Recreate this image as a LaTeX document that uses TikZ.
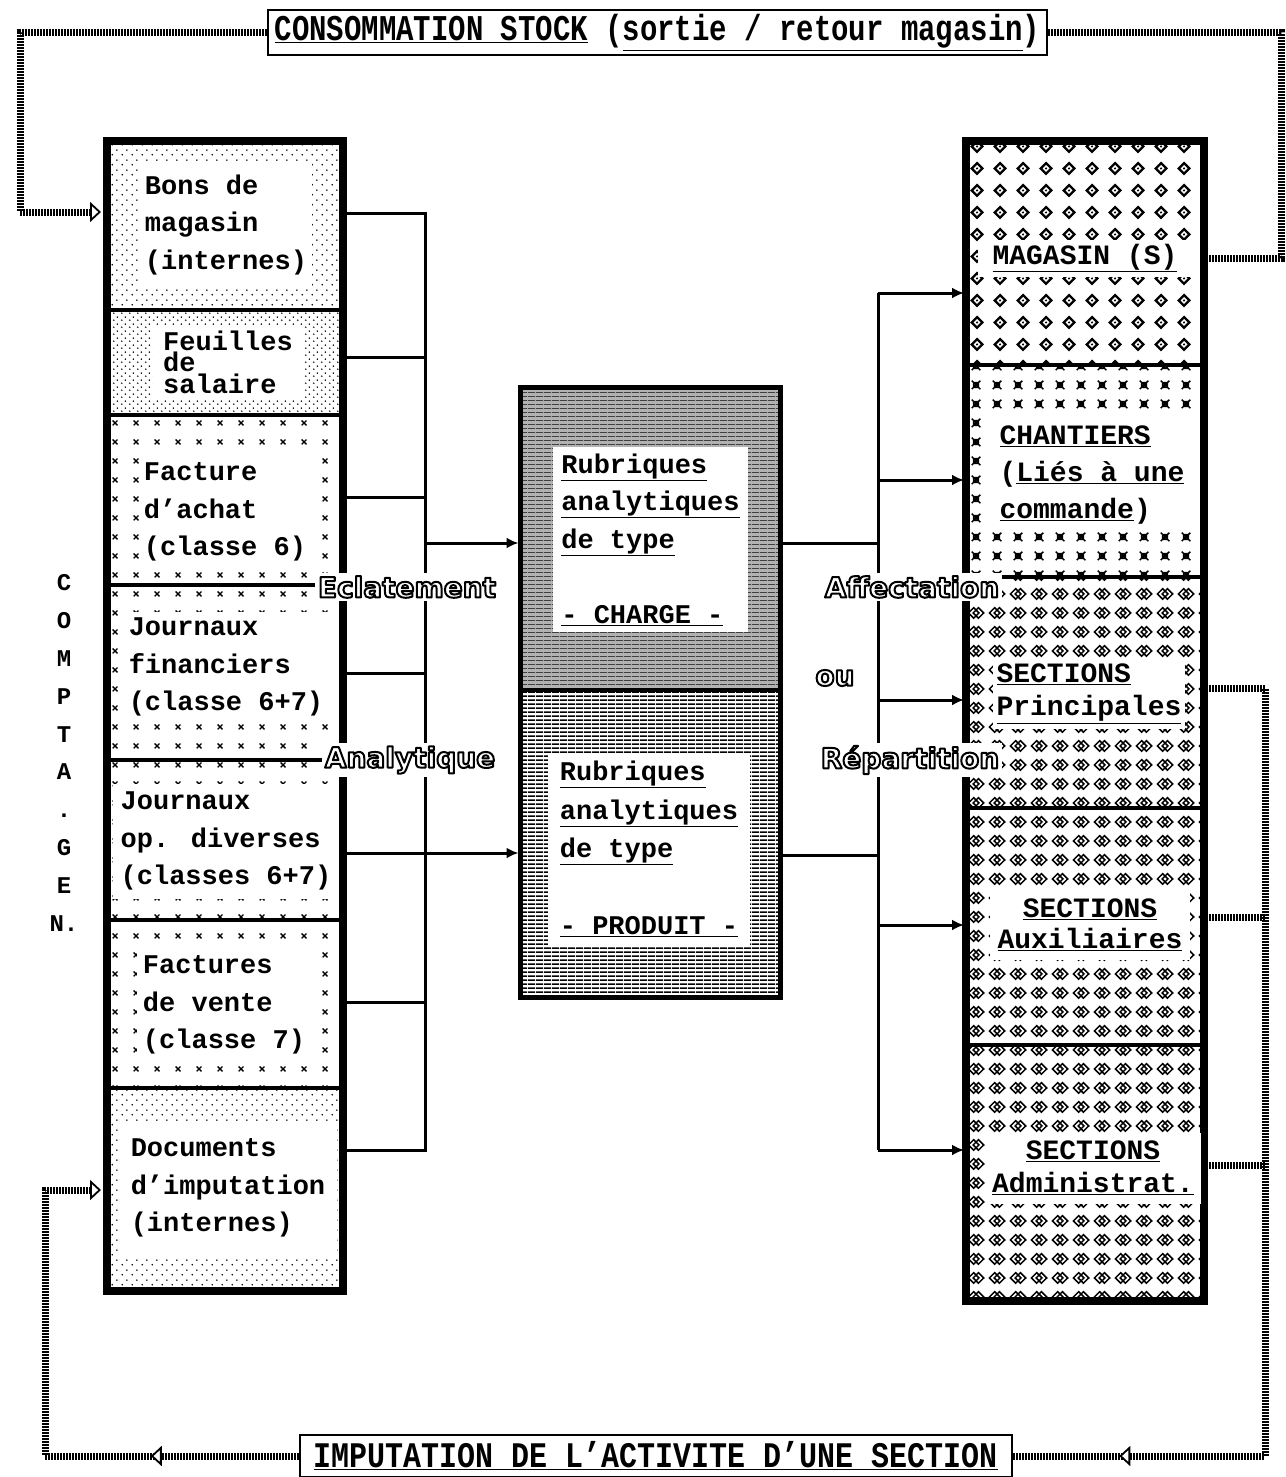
\documentclass[tikz,border=0pt]{standalone}
\usepackage{fontspec}
\setmainfont{Liberation Mono}
\newfontfamily\lblfont{DejaVu Sans}
\usepackage{graphicx}
\usetikzlibrary{patterns,arrows.meta,decorations.markings}

% outlined text: white fill, black stroke (PDF text render mode 2)
\newcommand\outlined[1]{\special{pdf:literal direct 2 Tr 2 w 1 j 0 G}#1\special{pdf:literal direct 0 Tr}}

\pgfdeclarepatternformonly{pdots}{\pgfqpoint{0pt}{0pt}}{\pgfqpoint{10pt}{10pt}}{\pgfqpoint{10pt}{10pt}}{%
  \pgfpathcircle{\pgfqpoint{2.5pt}{2.5pt}}{0.9pt}%
  \pgfpathcircle{\pgfqpoint{7.5pt}{7.5pt}}{0.9pt}%
  \pgfusepath{fill}}
\pgfdeclarepatternformonly{pdots2}{\pgfqpoint{0pt}{0pt}}{\pgfqpoint{8pt}{7pt}}{\pgfqpoint{8pt}{7pt}}{%
  \pgfpathcircle{\pgfqpoint{2pt}{2pt}}{0.9pt}%
  \pgfpathcircle{\pgfqpoint{6pt}{5.5pt}}{0.9pt}%
  \pgfusepath{fill}}
\pgfdeclarepatternformonly{xmarks}{\pgfqpoint{0pt}{0pt}}{\pgfqpoint{21pt}{19pt}}{\pgfqpoint{21pt}{19pt}}{%
  \pgfsetlinewidth{1.4pt}%
  \pgfpathmoveto{\pgfqpoint{8pt}{7pt}}\pgfpathlineto{\pgfqpoint{13pt}{12pt}}%
  \pgfpathmoveto{\pgfqpoint{8pt}{12pt}}\pgfpathlineto{\pgfqpoint{13pt}{7pt}}%
  \pgfusepath{stroke}}
\pgfdeclarepatternformonly{pdiam}{\pgfqpoint{0pt}{0pt}}{\pgfqpoint{23pt}{22pt}}{\pgfqpoint{23pt}{22pt}}{%
  \pgfsetlinewidth{2.4pt}%
  \pgfpathmoveto{\pgfqpoint{11.5pt}{5.5pt}}\pgfpathlineto{\pgfqpoint{17pt}{11pt}}%
  \pgfpathlineto{\pgfqpoint{11.5pt}{16.5pt}}\pgfpathlineto{\pgfqpoint{6pt}{11pt}}\pgfpathclose
  \pgfusepath{stroke}%
  \pgfpathcircle{\pgfqpoint{11.5pt}{11pt}}{1.2pt}\pgfusepath{fill}}
\pgfdeclarepatternformonly{pstar}{\pgfqpoint{0pt}{0pt}}{\pgfqpoint{21pt}{19pt}}{\pgfqpoint{21pt}{19pt}}{%
  \pgfsetlinewidth{1.5pt}%
  \pgfpathrectangle{\pgfqpoint{8pt}{7pt}}{\pgfqpoint{5pt}{5pt}}%
  \pgfpathmoveto{\pgfqpoint{6pt}{5pt}}\pgfpathlineto{\pgfqpoint{15pt}{14pt}}%
  \pgfpathmoveto{\pgfqpoint{6pt}{14pt}}\pgfpathlineto{\pgfqpoint{15pt}{5pt}}%
  \pgfusepath{stroke}}
\pgfdeclarepatternformonly{pknot}{\pgfqpoint{0pt}{0pt}}{\pgfqpoint{21pt}{19pt}}{\pgfqpoint{21pt}{19pt}}{%
  \pgfsetlinewidth{1.6pt}%
  \pgfpathmoveto{\pgfqpoint{8pt}{4pt}}\pgfpathlineto{\pgfqpoint{13.5pt}{9.5pt}}%
  \pgfpathlineto{\pgfqpoint{8pt}{15pt}}\pgfpathlineto{\pgfqpoint{2.5pt}{9.5pt}}\pgfpathclose
  \pgfpathmoveto{\pgfqpoint{13pt}{4pt}}\pgfpathlineto{\pgfqpoint{18.5pt}{9.5pt}}%
  \pgfpathlineto{\pgfqpoint{13pt}{15pt}}\pgfpathlineto{\pgfqpoint{7.5pt}{9.5pt}}\pgfpathclose
  \pgfusepath{stroke}}
\pgfdeclarepatternformonly{hstripes}{\pgfqpoint{0pt}{0pt}}{\pgfqpoint{8pt}{4pt}}{\pgfqpoint{8pt}{4pt}}{%
  \pgfpathrectangle{\pgfqpoint{0pt}{0pt}}{\pgfqpoint{8pt}{2pt}}\pgfusepath{fill}}
\pgfdeclarepatternformonly{hthin}{\pgfqpoint{0pt}{0pt}}{\pgfqpoint{8pt}{4pt}}{\pgfqpoint{8pt}{4pt}}{%
  \pgfpathrectangle{\pgfqpoint{0pt}{0pt}}{\pgfqpoint{8pt}{1.2pt}}\pgfusepath{fill}}

\tikzset{
  hatch/.style={line width=7pt, dash pattern=on 1.6pt off 1.4pt},
  openhead/.style={-{Triangle[open,length=11pt,width=20pt,line width=1.8pt]}},
  midhead/.style={postaction={decorate,decoration={markings,
      mark=at position #1 with {\arrow{Triangle[open,fill=white,length=11pt,width=20pt,line width=1.8pt]}}}}},
  wire/.style={line width=3pt},
  flowarr/.style={line width=3pt,-{Latex[length=12pt,width=11pt]}},
  lsec/.style={draw, line width=4pt, minimum width=236pt, inner sep=0pt},
  rsec/.style={draw, line width=4pt, minimum width=238pt, inner sep=0pt},
  ltext/.style={fill=white, align=left, inner sep=0pt, font=\bfseries\fontsize{27}{37.5}\selectfont},
  rtext/.style={fill=white, inner sep=0pt, font=\bfseries\fontsize{28}{37}\selectfont},
  olabel/.style={fill=white, inner sep=3pt, text=white, font=\lblfont\bfseries\fontsize{28}{28}\selectfont},
  lblbox/.style={draw, line width=2.5pt, inner sep=0pt, fill=white}
}

\begin{document}
\begin{tikzpicture}[x=1pt,y=-1pt]
\useasboundingbox[fill=white] (0,0) rectangle (1285,1477);

% ---- frame labels
\node[lblbox, minimum width=779pt, minimum height=45pt] (conso) at (657.5,32.5)
  {\scalebox{1}[1.25]{\bfseries\fontsize{29}{29}\selectfont\underline{CONSOMMATION STOCK} (\underline{sortie / retour magasin})}};
\node[lblbox, minimum width=712pt, minimum height=42pt] (imput) at (656,1456)
  {\scalebox{1}[1.2]{\bfseries\fontsize{30}{30}\selectfont\underline{IMPUTATION DE L'ACTIVITE D'UNE SECTION}}};

% ---- coordinates of the hatched loops
\coordinate (tl1) at (20,33);
\coordinate (tl2) at (20,212);
\coordinate (tr1) at (1281,258);
\coordinate (tr2) at (1281,33);
\coordinate (bl1) at (45,1456);
\coordinate (bl2) at (45,1190);
\coordinate (br0) at (1265,688);
\coordinate (br1) at (1265,1456);
\coordinate (br2) at (1265,917);
\coordinate (br3) at (1265,1165);

% ---- left column
\node[lsec, pattern=pdots,  minimum height=169pt] (bons)  at (225,225.5) {};
\node[lsec, pattern=pdots2, minimum height=105pt] (feuil) at (225,362.5) {};
\node[lsec, pattern=xmarks, minimum height=170pt] (fach)  at (225,500) {};
\node[lsec, pattern=xmarks, minimum height=175pt] (jfin)  at (225,672.5) {};
\node[lsec, pattern=xmarks, minimum height=160pt] (jop)   at (225,840) {};
\node[lsec, pattern=xmarks, minimum height=168pt] (fvte)  at (225,1004) {};
\node[lsec, pattern=pdots,  minimum height=203pt] (docs)  at (225,1189.5) {};
\node[draw, line width=8pt, minimum width=236pt, minimum height=1150pt, inner sep=0pt] (leftcol) at (225,716) {};

\node[ltext, minimum width=172pt, minimum height=124pt] (tbons) at (226,225) {Bons de\\magasin\\(internes)};
\node[ltext, minimum width=150pt, minimum height=75pt, font=\bfseries\fontsize{27}{21.5}\selectfont] (tfeuil) at (228,362) {Feuilles\\de\\salaire};
\node[ltext, minimum width=170pt, minimum height=110pt] (tfach) at (225,512) {Facture\\d'achat\\(classe 6)};
\node[ltext, minimum width=215pt, minimum height=110pt] (tjfin) at (226,667) {Journaux\\financiers\\(classe 6+7)};
\node[ltext, minimum width=226pt, minimum height=115pt] (tjop) at (226,841) {Journaux\\op. diverses\\(classes 6+7)};
\node[ltext, minimum width=175pt, minimum height=110pt] (tfvte) at (224,1005) {Factures\\de vente\\(classe 7)};
\node[ltext, minimum width=218pt, minimum height=135pt] (tdocs) at (228,1188) {Documents\\d'imputation\\(internes)};

\node[font=\bfseries\fontsize{24}{37.8}\selectfont, align=center, inner sep=0pt] (cg) at (64,753)
  {C\\O\\M\\P\\T\\A\\.\\G\\E\\N.};

% ---- central box
\node[draw, line width=4pt, minimum width=260pt, minimum height=302.5pt, inner sep=0pt,
      preaction={fill=gray!60}, pattern=hthin, pattern color=black!75] (charge) at (650.5,538.75) {};
\node[draw, line width=4pt, minimum width=260pt, minimum height=307.5pt, inner sep=0pt,
      pattern=hstripes] (produit) at (650.5,843.75) {};
\node[draw, line width=5pt, minimum width=260pt, minimum height=610pt, inner sep=0pt] (central) at (650.5,692.5) {};
\node[fill=white, minimum width=195pt, minimum height=185pt, inner sep=0pt, align=left,
      font=\bfseries\fontsize{27}{37.5}\selectfont] (chin) at (650.5,539.5)
  {\underline{Rubriques}\\\underline{analytiques}\\\underline{de type}\\\mbox{}\\\underline{- CHARGE -}};
\node[fill=white, minimum width=202pt, minimum height=193pt, inner sep=0pt, align=left,
      font=\bfseries\fontsize{27}{38.5}\selectfont] (prin) at (649,849)
  {\underline{Rubriques}\\\underline{analytiques}\\\underline{de type}\\\mbox{}\\\underline{- PRODUIT -}};

% ---- right column
\node[rsec, pattern=pdiam, minimum height=224pt] (mag)  at (1085,253) {};
\node[rsec, pattern=pstar, minimum height=212pt] (chan) at (1085,471) {};
\node[rsec, pattern=pknot, minimum height=231pt] (sp)   at (1085,692.5) {};
\node[rsec, pattern=pknot, minimum height=237pt] (saux) at (1085,926.5) {};
\node[rsec, pattern=pknot, minimum height=256pt] (sadm) at (1085,1173) {};
\node[draw, line width=8pt, minimum width=238pt, minimum height=1160pt, inner sep=0pt] (rightcol) at (1085,721) {};

\node[rtext, minimum width=214pt, minimum height=37pt] (tmag) at (1085,258) {\underline{MAGASIN (S)}};
\node[rtext, align=left, minimum width=200pt, minimum height=114pt] (tchan) at (1092,475)
  {\underline{CHANTIERS}\\(\underline{Liés à une}\\\underline{commande})};
\node[rtext, align=left, minimum width=192pt, minimum height=70pt, font=\bfseries\fontsize{28}{33}\selectfont] (tsp) at (1089,694)
  {\underline{SECTIONS}\\\underline{Principales}};
\node[rtext, align=center, minimum width=200pt, minimum height=70pt, font=\bfseries\fontsize{28}{31}\selectfont] (tsaux) at (1090,925)
  {\underline{SECTIONS}\\\underline{Auxiliaires}};
\node[rtext, align=center, minimum width=215pt, minimum height=71pt, font=\bfseries\fontsize{28}{33}\selectfont] (tsadm) at (1093,1168)
  {\underline{SECTIONS}\\\underline{Administrat.}};

% ---- hatched loops
\draw[hatch, openhead, shorten >=4pt] (conso.west |- tl1) -- (tl1) -- (tl2) -- (bons.west |- tl2);
\draw[hatch] (mag.east |- tr1) -- (tr1) -- (tr2) -- (conso.east |- tr2);
\draw[hatch, openhead, shorten >=4pt, midhead=148pt] (imput.west |- bl1) -- (bl1) -- (bl2) -- (docs.west |- bl2);
\draw[hatch, midhead=-106pt] (sp.east |- br0) -- (br0) -- (br1) -- (imput.east |- br1);
\draw[hatch] (saux.east |- br2) -- (br2);
\draw[hatch] (sadm.east |- br3) -- (br3);

% ---- left bus
\coordinate (L1) at (425,213);
\coordinate (L2) at (425,357);
\coordinate (L3) at (425,497);
\coordinate (L4) at (425,673);
\coordinate (L5) at (425,1002);
\coordinate (L6) at (425,1150);
\coordinate (LA) at (425,543);
\coordinate (LB) at (425,853);
\draw[wire] (bons.east |- L1) -- (L1) -- (L6) -- (docs.east |- L6);
\draw[wire] (feuil.east |- L2) -- (L2);
\draw[wire] (fach.east |- L3) -- (L3);
\draw[wire] (jfin.east |- L4) -- (L4);
\draw[wire] (fvte.east |- L5) -- (L5);
\draw[flowarr] (LA) -- (charge.west |- LA);
\draw[flowarr] (jop.east |- LB) -- (produit.west |- LB);

% ---- right bus
\coordinate (R1) at (878,293);
\coordinate (R2) at (878,480);
\coordinate (R3) at (878,700);
\coordinate (R4) at (878,925);
\coordinate (R5) at (878,1150);
\coordinate (RA) at (878,543);
\coordinate (RB) at (878,855);
\draw[wire] (charge.east |- RA) -- (RA);
\draw[wire] (produit.east |- RB) -- (RB);
\draw[wire] (R1) -- (R5);
\draw[flowarr] (R1) -- (mag.west |- R1);
\draw[flowarr] (R2) -- (chan.west |- R2);
\draw[flowarr] (R3) -- (sp.west |- R3);
\draw[flowarr] (R4) -- (saux.west |- R4);
\draw[flowarr] (R5) -- (sadm.west |- R5);

% ---- outlined labels
\node[olabel] (ecl) at (407,587) {\outlined{Eclatement}};
\node[olabel] (ana) at (410,760) {\outlined{Analytique}};
\node[olabel] (aff) at (912,587) {\outlined{Affectation}};
\node[olabel] (ou)  at (835,678) {\outlined{ou}};
\node[olabel] (rep) at (910,760) {\outlined{Répartition}};
\end{tikzpicture}
\end{document}
